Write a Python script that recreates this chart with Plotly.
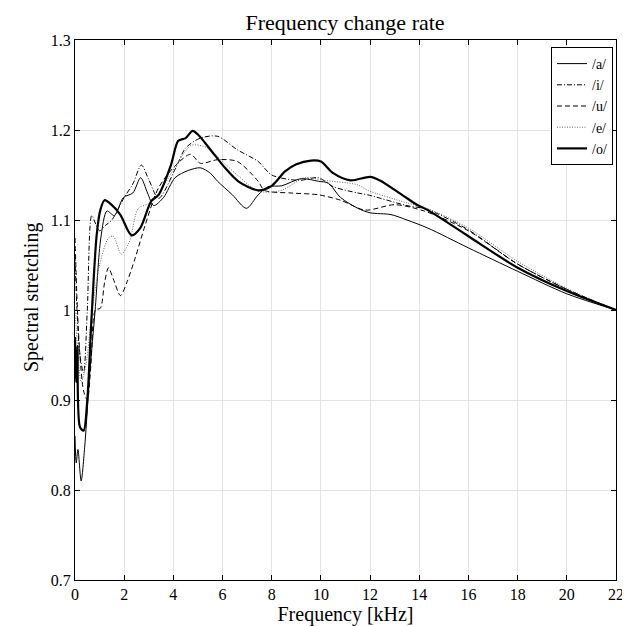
import plotly.graph_objects as go

# ---- data (frequency in kHz, spectral stretching) ----
f_a = [0, 0.05, 0.12, 0.25, 0.4, 0.6, 0.82, 1.05, 1.3, 1.6, 1.97, 2.35, 2.67, 2.95, 3.2, 3.6, 4.07, 4.6, 5.1, 5.5, 5.8, 6.4, 6.97, 7.45, 7.85, 8.4, 9.2, 9.9, 10.3, 10.8, 11.5, 12.0, 12.85, 13.5, 14.35, 16, 18, 20, 22]
v_a = [0.86, 0.83, 0.845, 0.81, 0.85, 0.93, 1.0, 1.08, 1.11, 1.105, 1.125, 1.13, 1.147, 1.13, 1.116, 1.125, 1.147, 1.155, 1.158, 1.152, 1.143, 1.128, 1.113, 1.128, 1.137, 1.138, 1.146, 1.143, 1.141, 1.125, 1.113, 1.108, 1.106, 1.1, 1.091, 1.069, 1.043, 1.018, 1.0]

f_i = [0, 0.08, 0.2, 0.35, 0.5, 0.68, 0.85, 1.0, 1.24, 1.5, 2.0, 2.35, 2.7, 3.0, 3.4, 4.1, 4.5, 5.1, 5.8, 6.6, 7.45, 8.0, 9.1, 9.9, 10.5, 11.5, 11.9, 13.5, 14.3, 16, 18, 20, 22]
v_i = [1.06, 1.0, 0.95, 0.93, 1.0, 1.105, 1.095, 1.088, 1.094, 1.1, 1.125, 1.14, 1.161, 1.145, 1.124, 1.158, 1.18, 1.191, 1.193, 1.178, 1.165, 1.15, 1.144, 1.147, 1.137, 1.13, 1.128, 1.116, 1.112, 1.089, 1.051, 1.023, 1.0]

f_u = [0, 0.1, 0.2, 0.35, 0.5, 0.65, 0.83, 1.03, 1.2, 1.36, 1.55, 1.85, 2.1, 2.45, 2.85, 3.4, 4.1, 4.7, 5.1, 5.8, 6.6, 7.45, 7.7, 8.8, 9.9, 10.8, 11.8, 13.0, 14.2, 16, 18, 20, 22]
v_u = [1.08, 1.0, 0.95, 0.91, 0.9, 0.94, 1.0, 1.002, 1.03, 1.047, 1.035, 1.016, 1.03, 1.058, 1.094, 1.136, 1.161, 1.173, 1.163, 1.167, 1.165, 1.143, 1.133, 1.13, 1.128, 1.122, 1.111, 1.117, 1.11, 1.088, 1.051, 1.023, 1.0]

f_e = [0, 0.1, 0.25, 0.45, 0.7, 1.0, 1.36, 1.56, 1.88, 2.2, 2.58, 2.98, 3.4, 4.1, 4.73, 5.4, 6.0, 6.64, 7.45, 8.4, 9.35, 10.15, 11.5, 11.9, 13.5, 14.3, 16, 18, 20, 22]
v_e = [1.0, 0.96, 0.92, 0.94, 1.0, 1.05, 1.08, 1.082, 1.062, 1.075, 1.113, 1.118, 1.13, 1.16, 1.183, 1.18, 1.165, 1.149, 1.132, 1.133, 1.147, 1.144, 1.139, 1.133, 1.119, 1.113, 1.091, 1.054, 1.024, 1.0]

f_o = [0, 0.05, 0.1, 0.2, 0.35, 0.5, 0.67, 0.88, 1.03, 1.2, 1.48, 1.84, 2.3, 2.65, 3.1, 3.4, 3.9, 4.2, 4.5, 4.78, 5.0, 5.54, 6.1, 6.64, 7.45, 8.0, 8.54, 9.0, 9.6, 10.0, 10.5, 11.2, 12.0, 12.4, 13.3, 13.9, 14.35, 16, 18, 20, 22]
v_o = [0.97, 0.92, 0.96, 0.87, 0.866, 0.9, 0.99, 1.083, 1.111, 1.122, 1.117, 1.106, 1.083, 1.091, 1.121, 1.128, 1.161, 1.188, 1.191, 1.199, 1.195, 1.177, 1.158, 1.143, 1.133, 1.138, 1.154, 1.162, 1.166, 1.165, 1.152, 1.144, 1.148, 1.144, 1.128, 1.117, 1.111, 1.082, 1.047, 1.021, 1.0]

series_names = ["/a/", "/i/", "/u/", "/e/", "/o/"]
x_ticks = [0, 2, 4, 6, 8, 10, 12, 14, 16, 18, 20, 22]
y_ticks = [0.7, 0.8, 0.9, 1.0, 1.1, 1.2, 1.3]
y_tick_labels = ["0.7", "0.8", "0.9", "1", "1.1", "1.2", "1.3"]

FONT = "Times New Roman, Liberation Serif, serif"

styles = [
    dict(color="black", width=1.0, dash="solid"),
    dict(color="black", width=1.0, dash="5px,2px,1px,2px"),
    dict(color="black", width=1.0, dash="5px,3px"),
    dict(color="#666666", width=1.0, dash="1px,1.5px"),
    dict(color="black", width=2.2, dash="solid"),
]

fig = go.Figure()
for name, fx, fv, st in zip(series_names,
                            [f_a, f_i, f_u, f_e, f_o],
                            [v_a, v_i, v_u, v_e, v_o],
                            styles):
    fig.add_trace(go.Scatter(x=fx, y=fv, mode="lines", name=name,
                             line=dict(shape="spline", smoothing=0.8, **st)))

axis_common = dict(showline=True, linecolor="black", linewidth=1, mirror="ticks",
                   ticks="inside", ticklen=5, tickcolor="black",
                   showgrid=True, gridcolor="#e3e3e3", gridwidth=1,
                   zeroline=False, automargin=False,
                   tickfont=dict(family=FONT, size=16, color="black"))

fig.update_xaxes(range=[0, 22], tickvals=x_ticks,
                 title=dict(text="Frequency [kHz]", font=dict(family=FONT, size=20, color="black"), standoff=0),
                 **axis_common)
fig.update_yaxes(range=[0.7, 1.3], tickvals=y_ticks, ticktext=y_tick_labels,
                 **axis_common)

fig.add_annotation(text="Spectral stretching", textangle=-90,
                   xref="paper", yref="paper", x=-44 / 541, y=(572 - 290) / 540,
                   xanchor="center", yanchor="middle", showarrow=False,
                   font=dict(family=FONT, size=20, color="black"))

fig.update_layout(
    width=630, height=626,
    margin=dict(l=67, r=22, t=32, b=54),
    paper_bgcolor="white", plot_bgcolor="white",
    font=dict(family=FONT, color="black"),
    title=dict(text="Frequency change rate", x=0.535, xanchor="center",
               y=1 - 14 / 626, yanchor="middle",
               font=dict(family=FONT, size=22, color="black"), automargin=False),
    legend=dict(x=1 - 3 / 541, xanchor="right", y=1 - 7 / 540, yanchor="top",
                bgcolor="white", bordercolor="black", borderwidth=1,
                font=dict(family=FONT, size=14, color="black"),
                itemwidth=30, tracegroupgap=0),
    showlegend=True,
)

fig.write_html("out.html")
